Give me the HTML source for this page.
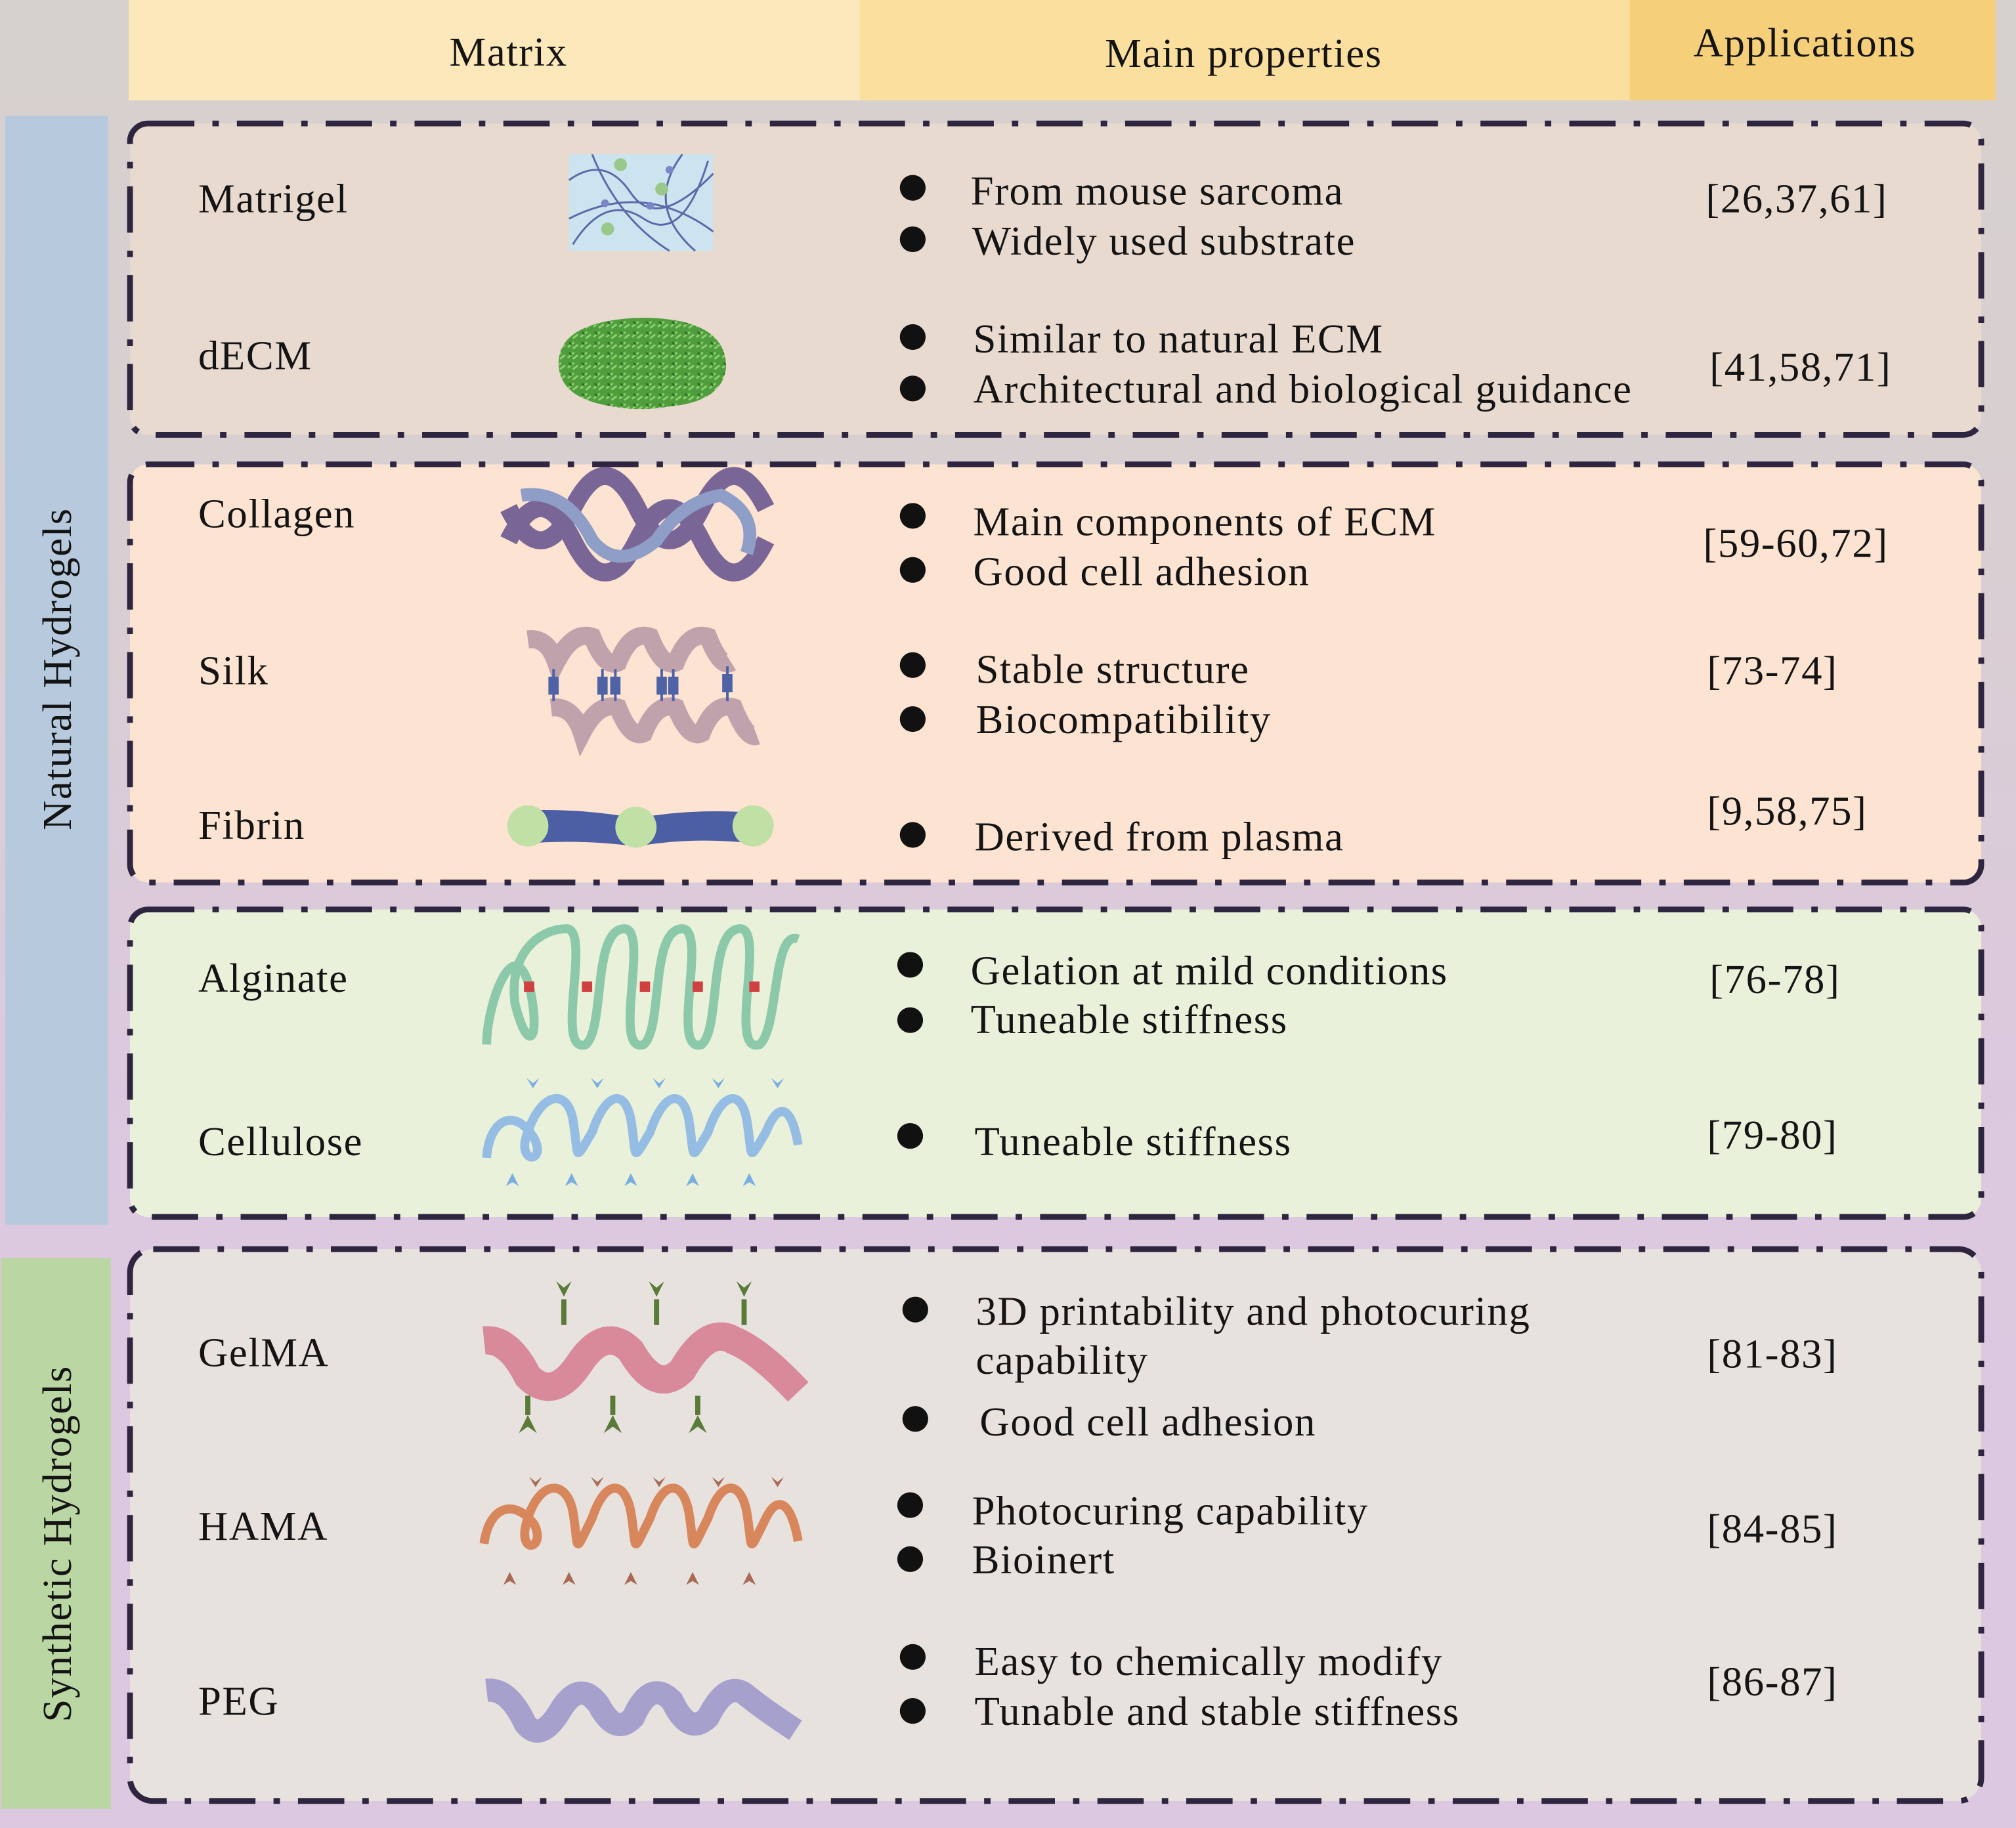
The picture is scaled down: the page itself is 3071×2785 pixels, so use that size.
<!DOCTYPE html>
<html><head><meta charset="utf-8"><style>
html,body{margin:0;padding:0;}
svg{display:block;}
text{font-family:"Liberation Serif",serif;fill:#141414;font-size:32px;letter-spacing:0.8px;}
</style></head><body>
<svg width="3071" height="2785" viewBox="0 0 1566 1421" preserveAspectRatio="none" xmlns="http://www.w3.org/2000/svg">
<defs>
<linearGradient id="bg" x1="0" y1="0" x2="0" y2="1">
<stop offset="0" stop-color="#d6d0ce"/><stop offset="0.3" stop-color="#d9cfd2"/><stop offset="0.62" stop-color="#dcc8df"/><stop offset="1" stop-color="#dcc8e0"/>
</linearGradient>
<pattern id="leaf" width="10" height="8" patternUnits="userSpaceOnUse">
<rect width="10" height="8" fill="#4f9d3c"/><path d="M1 6 L6 2 M5 7 L9 4" stroke="#8cd070" stroke-width="1.5"/><path d="M2 2 L4 4" stroke="#2f6e24" stroke-width="1.5"/>
</pattern>
</defs>
<rect width="1566" height="1421" fill="url(#bg)"/>
<rect x="100" y="0" width="568" height="78" fill="#fde8bb"/>
<rect x="668" y="0" width="598" height="78" fill="#fbdf9f"/>
<rect x="1266" y="0" width="284" height="78" fill="#f6cf7b"/>
<text x="395" y="51" text-anchor="middle">Matrix</text>
<text x="966" y="52" text-anchor="middle">Main properties</text>
<text x="1402" y="44" text-anchor="middle">Applications</text>
<rect x="4" y="90" width="80" height="862" fill="#b7cadd"/>
<rect x="1" y="978" width="85" height="428" fill="#bad6a2"/>
<text transform="translate(55,520) rotate(-90)" text-anchor="middle">Natural Hydrogels</text>
<text transform="translate(55,1200) rotate(-90)" text-anchor="middle">Synthetic Hydrogels</text>
<g stroke="#2e2640" stroke-width="4.5" stroke-dasharray="36 14 5 14">
<rect x="101" y="96" width="1438" height="242" rx="14" fill="#e9dad0"/>
<rect x="101" y="361" width="1438" height="325" rx="14" fill="#fde3d1"/>
<rect x="101" y="707" width="1438" height="239" rx="14" fill="#e9f1da"/>
<rect x="101" y="971" width="1438" height="429" rx="18" fill="#e8e2df"/>
</g>
<g>
<text x="154" y="165">Matrigel</text>
<text x="154" y="287">dECM</text>
<text x="154" y="410">Collagen</text>
<text x="154" y="532">Silk</text>
<text x="154" y="652">Fibrin</text>
<text x="154" y="771">Alginate</text>
<text x="154" y="898">Cellulose</text>
<text x="154" y="1062">GelMA</text>
<text x="154" y="1197">HAMA</text>
<text x="154" y="1333">PEG</text>
</g>
<g fill="#111">
<circle cx="709" cy="146" r="10"/><circle cx="709" cy="186" r="10"/>
<circle cx="709" cy="262" r="10"/><circle cx="709" cy="302" r="10"/>
<circle cx="709" cy="401" r="10"/><circle cx="709" cy="443" r="10"/>
<circle cx="709" cy="517" r="10"/><circle cx="709" cy="559" r="10"/>
<circle cx="709" cy="649" r="10"/>
<circle cx="707" cy="750" r="10"/><circle cx="707" cy="793" r="10"/>
<circle cx="707" cy="883" r="10"/>
<circle cx="711" cy="1018" r="10"/><circle cx="711" cy="1103" r="10"/>
<circle cx="707" cy="1170" r="10"/><circle cx="707" cy="1212" r="10"/>
<circle cx="709" cy="1288" r="10"/><circle cx="709" cy="1330" r="10"/>
</g>
<g>
<text x="754" y="159">From mouse sarcoma</text>
<text x="755" y="198">Widely used substrate</text>
<text x="756" y="274">Similar to natural ECM</text>
<text x="756" y="313">Architectural and biological guidance</text>
<text x="756" y="416">Main components of ECM</text>
<text x="756" y="455">Good cell adhesion</text>
<text x="758" y="531">Stable structure</text>
<text x="758" y="570">Biocompatibility</text>
<text x="757" y="661">Derived from plasma</text>
<text x="754" y="765">Gelation at mild conditions</text>
<text x="754" y="803">Tuneable stiffness</text>
<text x="757" y="898">Tuneable stiffness</text>
<text x="758" y="1030">3D printability and photocuring</text>
<text x="758" y="1068">capability</text>
<text x="761" y="1116">Good cell adhesion</text>
<text x="755" y="1185">Photocuring capability</text>
<text x="755" y="1223">Bioinert</text>
<text x="757" y="1302">Easy to chemically modify</text>
<text x="757" y="1341">Tunable and stable stiffness</text>
</g>
<g>
<text x="1325" y="165">[26,37,61]</text>
<text x="1328" y="296">[41,58,71]</text>
<text x="1323" y="433">[59-60,72]</text>
<text x="1326" y="532">[73-74]</text>
<text x="1326" y="641">[9,58,75]</text>
<text x="1328" y="772">[76-78]</text>
<text x="1326" y="893">[79-80]</text>
<text x="1326" y="1063">[81-83]</text>
<text x="1326" y="1199">[84-85]</text>
<text x="1326" y="1318">[86-87]</text>
</g>
<rect x="442" y="120" width="112" height="75" fill="#cbe4ef"/>
<g fill="none" stroke="#5a6aa8" stroke-width="1.5">
<path d="M442 140 Q470 120 490 150 T554 135"/><path d="M445 190 Q470 150 500 170 T550 125"/>
<path d="M460 120 Q480 170 520 195"/><path d="M442 170 Q500 140 554 180"/><path d="M530 120 Q500 160 540 195"/>
</g>
<g fill="#9ac88a"><circle cx="482" cy="128" r="5"/><circle cx="514" cy="147" r="5"/><circle cx="472" cy="178" r="5"/></g>
<g fill="#7a86c8"><circle cx="470" cy="158" r="3"/><circle cx="505" cy="160" r="3"/><circle cx="520" cy="132" r="3"/></g>
<path d="M434 285 Q432 258 470 250 Q500 244 530 250 Q564 258 564 285 Q562 312 520 316 Q498 320 476 316 Q436 310 434 285 Z" fill="url(#leaf)"/>
<g fill="none" stroke-width="14">
<path d="M395 420 Q420 370 445 420 T495 420 T545 420 T595 420" stroke="#7a6597"/>
<path d="M395 395 Q420 445 445 395 T495 395 T545 395 T595 395" stroke="#7a6597"/>
<path d="M405 385 Q440 380 460 420 Q480 445 510 420 Q530 390 560 385 Q590 400 580 430" stroke="#8e9ec6" stroke-width="10"/>
</g>
<g fill="none" stroke="#bfa2ac" stroke-width="14">
<path d="M410 497 Q425 495 432 515 Q445 490 460 495 Q470 520 480 515 Q490 490 505 495 Q515 520 525 515 Q535 490 550 495 Q560 520 568 515"/>
<path d="M428 550 Q445 548 452 570 Q465 545 480 550 Q490 575 500 570 Q510 545 525 550 Q535 575 545 570 Q555 545 570 550 Q580 575 588 572"/>
</g>
<g stroke="#4e63a6" stroke-width="2" fill="#4e63a6">
<line x1="430" y1="520" x2="430" y2="545"/><rect x="427" y="527" width="6" height="12"/>
<line x1="468" y1="520" x2="468" y2="545"/><rect x="465" y="527" width="6" height="12"/>
<line x1="478" y1="520" x2="478" y2="545"/><rect x="475" y="527" width="6" height="12"/>
<line x1="514" y1="520" x2="514" y2="545"/><rect x="511" y="527" width="6" height="12"/>
<line x1="523" y1="520" x2="523" y2="545"/><rect x="520" y="527" width="6" height="12"/>
<line x1="565" y1="518" x2="565" y2="545"/><rect x="562" y="525" width="6" height="12"/>
</g>
<path d="M405 630 Q450 628 494 636 Q540 628 588 632 L588 656 Q540 650 494 658 Q450 652 405 656 Z" fill="#4c5ea4"/>
<g fill="#c1e0a6"><circle cx="410" cy="642" r="16"/><circle cx="494" cy="643" r="16"/><circle cx="585" cy="642" r="16"/></g>
<g fill="none" stroke="#8cc9aa" stroke-width="7">
<path d="M378 812 C378 780 400 720 412 770 C420 810 410 820 400 780 C395 740 420 722 440 722 C460 722 430 820 455 812 C470 800 460 722 485 722 C505 722 475 820 500 812 C515 800 505 722 530 722 C550 722 520 820 545 812 C560 800 550 722 575 722 C595 722 565 820 590 812 C605 800 600 722 620 730"/>
</g>
<g fill="#d04040"><rect x="407" y="763" width="8" height="8"/><rect x="452" y="763" width="8" height="8"/><rect x="497" y="763" width="8" height="8"/><rect x="538" y="763" width="8" height="8"/><rect x="582" y="763" width="8" height="8"/></g>
<g fill="none" stroke="#95bde3" stroke-width="7">
<path d="M378 900 C380 870 400 860 415 885 C425 905 400 905 410 880 C420 850 440 845 445 870 C450 900 445 905 460 880 C470 850 485 845 490 870 C495 900 490 905 505 880 C515 850 530 845 535 870 C540 900 535 905 550 880 C560 850 575 845 580 870 C585 900 580 905 595 880 C605 855 615 860 620 890"/>
</g>
<g fill="#7aaee0">
<path d="M414 846 l-5 -8 l5 4 l5 -4 z"/><path d="M464 846 l-5 -8 l5 4 l5 -4 z"/><path d="M512 846 l-5 -8 l5 4 l5 -4 z"/><path d="M558 846 l-5 -8 l5 4 l5 -4 z"/><path d="M604 846 l-5 -8 l5 4 l5 -4 z"/>
<path d="M398 912 l-5 10 l5 -3 l5 3 z"/><path d="M444 912 l-5 10 l5 -3 l5 3 z"/><path d="M490 912 l-5 10 l5 -3 l5 3 z"/><path d="M538 912 l-5 10 l5 -3 l5 3 z"/><path d="M582 912 l-5 10 l5 -3 l5 3 z"/>
</g>
<path d="M376 1042 Q395 1040 410 1070 Q430 1090 450 1060 Q470 1030 490 1050 Q510 1085 530 1065 Q550 1030 570 1042 Q590 1050 620 1082" fill="none" stroke="#d98a9a" stroke-width="22"/>
<g fill="#5a7a38">
<path d="M438 1008 l-6 -12 l6 5 l6 -5 z"/><rect x="436" y="1010" width="4" height="20"/>
<path d="M510 1008 l-6 -12 l6 5 l6 -5 z"/><rect x="508" y="1010" width="4" height="20"/>
<path d="M578 1008 l-6 -12 l6 5 l6 -5 z"/><rect x="576" y="1010" width="4" height="20"/>
<rect x="408" y="1085" width="4" height="15"/><path d="M410 1100 l-7 14 l7 -5 l7 5 z"/>
<rect x="474" y="1085" width="4" height="15"/><path d="M476 1100 l-7 14 l7 -5 l7 5 z"/>
<rect x="540" y="1085" width="4" height="15"/><path d="M542 1100 l-7 14 l7 -5 l7 5 z"/>
</g>
<g fill="none" stroke="#d8865c" stroke-width="7">
<path d="M376 1200 C380 1170 400 1165 415 1185 C425 1205 400 1210 410 1180 C420 1150 440 1150 445 1175 C450 1205 445 1210 460 1180 C470 1150 485 1150 490 1175 C495 1205 490 1210 505 1180 C515 1150 530 1150 535 1175 C540 1205 535 1210 550 1180 C560 1150 575 1150 580 1175 C585 1205 580 1210 595 1180 C605 1160 615 1170 620 1198"/>
</g>
<g fill="#a86a54">
<path d="M416 1156 l-5 -8 l5 4 l5 -4 z"/><path d="M464 1156 l-5 -8 l5 4 l5 -4 z"/><path d="M512 1156 l-5 -8 l5 4 l5 -4 z"/><path d="M558 1156 l-5 -8 l5 4 l5 -4 z"/><path d="M604 1156 l-5 -8 l5 4 l5 -4 z"/>
<path d="M396 1222 l-5 10 l5 -3 l5 3 z"/><path d="M442 1222 l-5 10 l5 -3 l5 3 z"/><path d="M490 1222 l-5 10 l5 -3 l5 3 z"/><path d="M538 1222 l-5 10 l5 -3 l5 3 z"/><path d="M582 1222 l-5 10 l5 -3 l5 3 z"/>
</g>
<path d="M378 1314 Q395 1312 408 1340 Q420 1355 435 1330 Q450 1305 465 1325 Q478 1350 492 1335 Q505 1305 522 1322 Q535 1350 550 1335 Q565 1305 580 1318 Q595 1330 618 1345" fill="none" stroke="#a6a1cc" stroke-width="18"/>
</svg>
</body></html>
